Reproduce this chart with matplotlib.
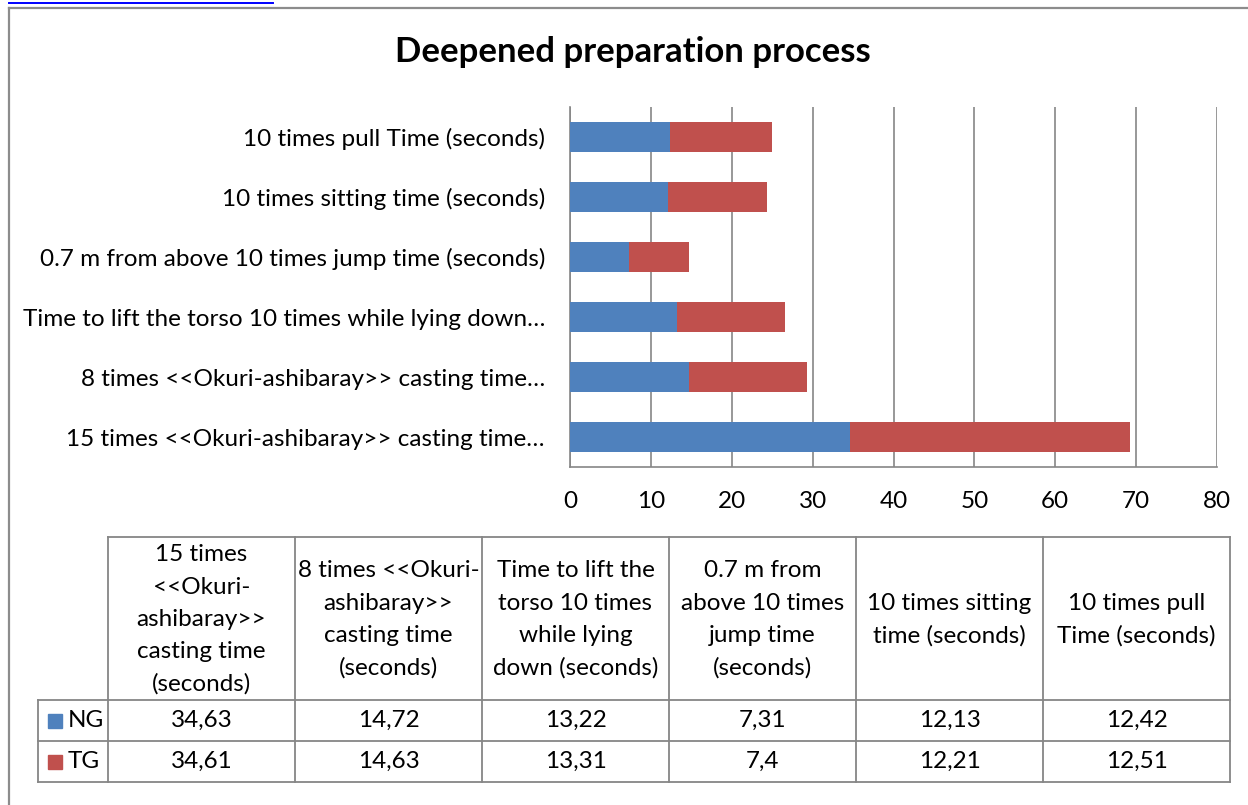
import numpy as np
import matplotlib.pyplot as plt
from matplotlib.patches import Rectangle

plt.rcParams['font.family'] = ['Lato', 'DejaVu Sans']

# data (bottom -> top of the bar chart, same order as the table columns)
axis_labels = ['15 times <<Okuri-ashibaray>> casting time…',
               '8 times <<Okuri-ashibaray>> casting time…',
               'Time to lift the torso 10 times while lying down…',
               '0.7 m from above 10 times jump time (seconds)',
               '10 times sitting time (seconds)',
               '10 times pull Time (seconds)']
table_headers = ['15 times\n<<Okuri-\nashibaray>>\ncasting time\n(seconds)',
                 '8 times <<Okuri-\nashibaray>>\ncasting time\n(seconds)',
                 'Time to lift the\ntorso 10 times\nwhile lying\ndown (seconds)',
                 '0.7 m from\nabove 10 times\njump time\n(seconds)',
                 '10 times sitting\ntime (seconds)',
                 '10 times pull\nTime (seconds)']
series_names = ['NG', 'TG']
ng = [34.63, 14.72, 13.22, 7.31, 12.13, 12.42]
tg = [34.61, 14.63, 13.31, 7.4, 12.21, 12.51]
colors = ['#4F81BD', '#C0504D']
title = 'Deepened preparation process'

W, H = 1248, 805
GRAY = '#868686'
FS = 17.5
fig = plt.figure(figsize=(W / 100, H / 100), dpi=100)

# ---- bar chart
ax = fig.add_axes([570 / W, 1 - 467 / H, (1217 - 570) / W, (467 - 107) / H])
y = np.arange(len(ng))
ax.barh(y, ng, height=0.5, color=colors[0], zorder=3)
ax.barh(y, tg, left=ng, height=0.5, color=colors[1], zorder=3)
ax.set_xlim(0, 80)
ax.set_ylim(-0.5, len(ng) - 0.5)
ax.set_xticks(range(0, 81, 10))
ax.set_yticks(y, labels=axis_labels)
ax.grid(axis='x', color=GRAY, linewidth=1.2, zorder=0)
for s in ['top', 'right']:
    ax.spines[s].set_visible(False)
for s in ['left', 'bottom']:
    ax.spines[s].set_color(GRAY)
    ax.spines[s].set_linewidth(1.2)
ax.tick_params(axis='y', length=0, pad=18, labelsize=FS)
ax.tick_params(axis='x', length=0, pad=17, labelsize=FS)

fig.text(633 / W, 1 - 52 / H, title, ha='center', va='center',
         fontsize=25, fontweight='bold')

# ---- data table (pixel coordinates)
tab = fig.add_axes([0, 0, 1, 1])
tab.set_xlim(0, W)
tab.set_ylim(H, 0)
tab.axis('off')
x0, x1 = 108, 1230
lab_left = 38
top, r1, r2, bot = 537, 700, 741, 782
ncol = len(table_headers)
cw = (x1 - x0) / ncol
lk = dict(color=GRAY, linewidth=1.3)
tab.plot([x0, x1], [top, top], **lk)
tab.plot([lab_left, x1], [r1, r1], **lk)
tab.plot([lab_left, x1], [r2, r2], **lk)
tab.plot([lab_left, x1], [bot, bot], **lk)
tab.plot([lab_left, lab_left], [r1, bot], **lk)
for i in range(ncol + 1):
    tab.plot([x0 + i * cw, x0 + i * cw], [top, bot], **lk)
for i, h in enumerate(table_headers):
    tab.text(x0 + (i + 0.5) * cw, (top + r1) / 2 + 1, h, ha='center', va='center',
             fontsize=FS, linespacing=1.65)
    tab.text(x0 + (i + 0.5) * cw, (r1 + r2) / 2, str(ng[i]).replace('.', ','),
             ha='center', va='center', fontsize=FS)
    tab.text(x0 + (i + 0.5) * cw, (r2 + bot) / 2, str(tg[i]).replace('.', ','),
             ha='center', va='center', fontsize=FS)
for j, (name, c) in enumerate(zip(series_names, colors)):
    yc = (r1 + r2) / 2 if j == 0 else (r2 + bot) / 2
    tab.add_patch(Rectangle((48, yc - 7), 14, 14, color=c))
    tab.text(68, yc, name, ha='left', va='center', fontsize=FS)

# ---- outer chart frame and clipped hyperlink underline
tab.plot([9, 9], [8, H], color='#8c8c8c', linewidth=1.6)
tab.plot([9, W], [8, 8], color='#8c8c8c', linewidth=1.6)
tab.plot([9, 273], [3.5, 3.5], color='#0000ff', linewidth=1.4)

fig.savefig('out.png', dpi=100)
